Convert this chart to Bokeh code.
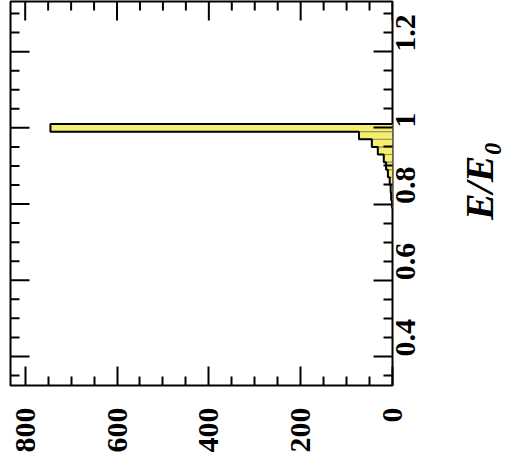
import math
from bokeh.plotting import figure
from bokeh.layouts import row
from bokeh.models import Range1d, LinearAxis, FixedTicker, ColumnDataSource
from bokeh.core.properties import value
from bokeh.embed import file_html
from bokeh.resources import INLINE

# ---- data (histogram of E/E0, bins of 0.02) ----
bin_lo = [0.79, 0.81, 0.83, 0.85, 0.87, 0.89, 0.91, 0.93, 0.95, 0.97, 0.99]
bin_hi = [0.81, 0.83, 0.85, 0.87, 0.89, 0.91, 0.93, 0.95, 0.97, 0.99, 1.01]
counts = [1, 3, 4, 6, 10, 14, 19, 32, 45, 73, 745]

e_ticks = [0.4, 0.6, 0.8, 1.0, 1.2]
e_minor = [0.35, 0.45, 0.5, 0.55, 0.65, 0.7, 0.75, 0.85, 0.9, 0.95, 1.05, 1.1, 1.15, 1.25, 1.3]
n_ticks = [0, 200, 400, 600, 800]
n_minor = [50, 100, 150, 250, 300, 350, 450, 500, 550, 650, 700, 750]
axis_title = "E/E\u2080"
title_at = 0.861  # E/E0 value at which the axis title is centred

FONT = "Liberation Serif"
E_MIN, E_MAX = 0.3237, 1.3316
N_MAX = 832
H = 460
W_MAIN, W_TITLE = 454, 48

p = figure(width=W_MAIN, height=H, output_backend="svg", toolbar_location=None,
           x_range=Range1d(start=N_MAX, end=0), y_range=Range1d(start=E_MIN, end=E_MAX),
           x_axis_location=None, y_axis_location=None,
           min_border_left=10, min_border_right=62, min_border_top=1, min_border_bottom=75)
p.grid.visible = False
p.outline_line_color = "black"
p.outline_line_width = 2
p.background_fill_color = "white"
p.border_fill_color = "white"

src = ColumnDataSource(dict(lo=bin_lo, hi=bin_hi, n=counts, zero=[0] * len(counts)))
p.quad(left="zero", right="n", bottom="lo", top="hi", source=src,
       fill_color="#f6ef6c", line_color="#8a8a70", line_width=1)

# black histogram outline
ox, oy = [0], [bin_lo[0]]
for lo, hi, n in zip(bin_lo, bin_hi, counts):
    ox += [n, n]
    oy += [lo, hi]
ox.append(0)
oy.append(bin_hi[-1])
p.line(ox, oy, line_color="black", line_width=2)

# mirrored inward ticks on left and top edges (half of each dash is clipped by the frame)
MAJ, MIN = 38, 18
p.scatter(x=[N_MAX] * len(e_ticks), y=e_ticks, marker="dash", size=MAJ,
          line_color="black", line_width=2)
p.scatter(x=[N_MAX] * len(e_minor), y=e_minor, marker="dash", size=MIN,
          line_color="black", line_width=2)
p.scatter(x=n_ticks, y=[E_MAX] * len(n_ticks), marker="dash", angle=math.pi / 2,
          size=MAJ, line_color="black", line_width=2)
p.scatter(x=n_minor, y=[E_MAX] * len(n_minor), marker="dash", angle=math.pi / 2,
          size=MIN, line_color="black", line_width=2)


def style(ax, ticks, minor):
    ax.ticker = FixedTicker(ticks=ticks, minor_ticks=minor)
    ax.axis_line_color = None
    ax.major_tick_in = 19
    ax.major_tick_out = 0
    ax.minor_tick_in = 9
    ax.minor_tick_out = 0
    ax.major_tick_line_color = "black"
    ax.major_tick_line_width = 2
    ax.minor_tick_line_color = "black"
    ax.minor_tick_line_width = 2
    ax.major_label_text_font = FONT
    ax.major_label_text_font_size = "30px"
    ax.major_label_text_font_style = "bold"
    ax.major_label_text_color = "black"
    ax.major_label_orientation = math.pi / 2


bottom = LinearAxis()
style(bottom, n_ticks, n_minor)
bottom.major_label_standoff = 22
p.add_layout(bottom, "below")

right = LinearAxis()
style(right, e_ticks, e_minor)
right.major_label_standoff = 13
right.major_label_overrides = {1: "1"}
p.add_layout(right, "right")

# companion panel carrying the rotated axis title E/E0 (same E/E0 scale)
t = figure(width=W_TITLE, height=H, output_backend="svg", toolbar_location=None,
           x_range=Range1d(0, W_TITLE), y_range=Range1d(E_MIN, E_MAX),
           x_axis_location=None, y_axis_location=None,
           min_border_left=0, min_border_right=0, min_border_top=1, min_border_bottom=75)
t.grid.visible = False
t.outline_line_color = None
t.background_fill_color = "white"
t.border_fill_color = "white"
t.text(x=[25], y=[title_at], text=[axis_title], angle=math.pi / 2,
       text_align="center", text_baseline="middle",
       text_font=value(FONT), text_font_style="bold italic",
       text_font_size="40px", text_color="black")

layout = row(p, t, spacing=0)
open("out.html", "w").write(file_html(layout, INLINE))
